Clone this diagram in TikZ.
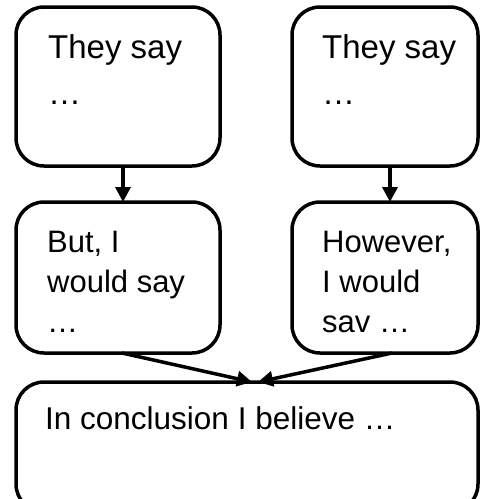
\documentclass[tikz,border=0pt]{standalone}
\usepackage{fontspec}
\setmainfont{Liberation Sans}
\usetikzlibrary{arrows.meta}
\begin{document}
\begin{tikzpicture}[x=1pt,y=-1pt,
  box/.style={draw=black,line width=3.5pt,rounded corners=28pt,minimum width=#1,inner sep=0pt,outer sep=0pt},
  txt/.style={anchor=base west,align=left,inner sep=0pt,font=\fontsize{31pt}{40pt}\selectfont},
  arr/.style={line width=3.5pt,-{Triangle[length=15pt,width=15pt]}}]
\useasboundingbox (0,0) rectangle (480,499);
\clip (0,0) rectangle (480,499);
\node[box=204pt,minimum height=159pt] (b1) at (118,86.5) {};
\node[box=186pt,minimum height=159pt] (b2) at (385,86.5) {};
\node[box=204pt,minimum height=151pt] (b3) at (118,277.5) {};
\node[box=186pt,minimum height=151pt] (b4) at (385,277.5) {};
\node[box=462pt,minimum height=130pt] (b5) at (247,447) {};
% anchor base = baseline of the last line
\node[txt,font=\fontsize{33pt}{46pt}\selectfont] (t1) at (48,104) {They say\\…};
\node[txt,font=\fontsize{33pt}{46pt}\selectfont] (t2) at (322,104) {They say\\…};
\node[txt] (t3) at (47,332) {But, I\\would say\\…};
\node[txt] (t4) at (322,332) {However,\\I would\\sav …};
\node[txt,font=\fontsize{31.5pt}{40pt}\selectfont] (t5) at (45,429) {In conclusion I believe …};
\draw[arr] ([xshift=5pt]b1.south) -- ([xshift=5pt]b3.north);
\draw[arr] ([xshift=5pt]b2.south) -- ([xshift=5pt]b4.north);
\draw[arr] ([xshift=4pt]b3.south) -- ([xshift=5pt]b5.north);
\draw[arr] ([xshift=7pt]b4.south) -- ([xshift=11pt]b5.north);
\end{tikzpicture}
\end{document}
